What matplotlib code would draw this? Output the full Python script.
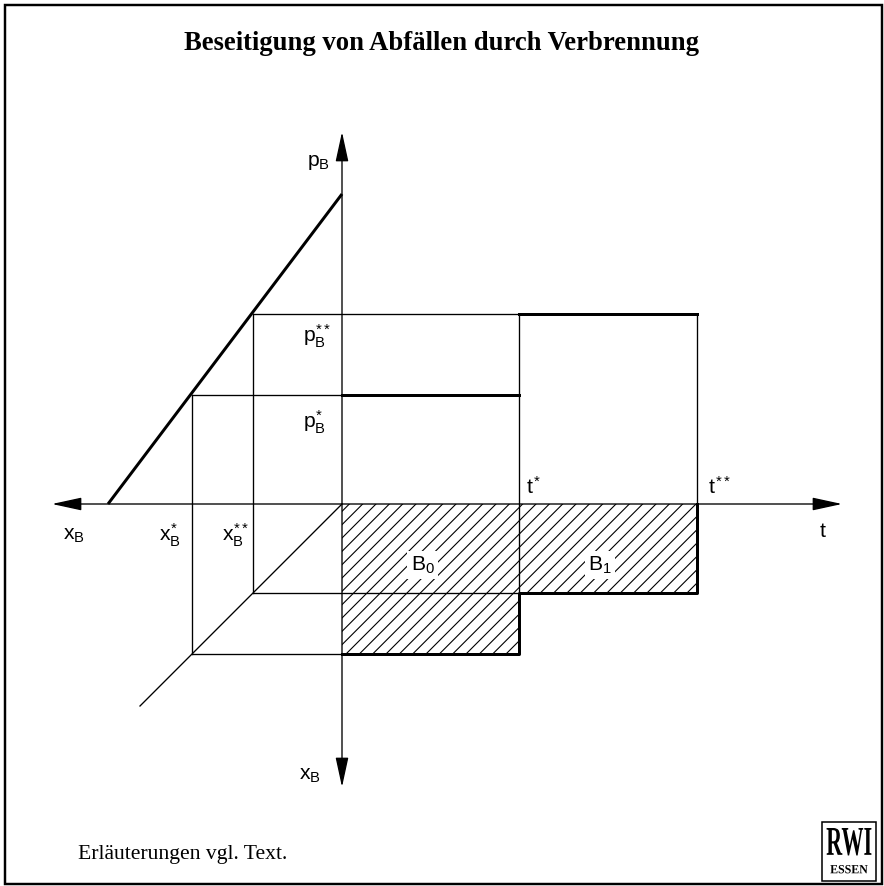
import matplotlib
matplotlib.use("Agg")
import matplotlib.pyplot as plt
from matplotlib.patches import FancyArrowPatch, Rectangle, PathPatch
from matplotlib.textpath import TextPath
from matplotlib.font_manager import FontProperties
from matplotlib.transforms import Affine2D

# schematic values (origin = crossing of the axes)
t_star, t_2star = 177, 355          # t*, t**
p_star, p_2star = 109, 190          # p_B*, p_B**
x_star, x_2star = 150, 89           # x_B*, x_B**
demand_p0, demand_x0 = 310, 234     # price / quantity intercept of demand line
axis_t, axis_x, axis_p, axis_xd = 500, 290, 372, 283   # axis lengths
diag_len = 202

area_left = [0, t_star]
area_width = [t_star, t_2star - t_star]
area_depth = [-x_star, -x_2star]
area_names = ["$B_0$", "$B_1$"]

plt.rcParams["mathtext.fontset"] = "custom"
plt.rcParams["mathtext.rm"] = "Liberation Sans"
plt.rcParams["mathtext.it"] = "Liberation Sans"
plt.rcParams["hatch.linewidth"] = 1.0

W, H, dpi = 884, 886, 80
fig = plt.figure(figsize=(W / dpi, H / dpi), dpi=dpi)
ax = fig.add_axes([0, 0, 1, 1])
ax.set_xlim(-342, W - 342)
ax.set_ylim(-(H - 504), 504)
ax.axis("off")

thin, thick = 1.2, 2.7

# axes with arrow heads
for a, b in [((-axis_x, 0), (axis_t, 0)), ((0, -axis_xd), (0, axis_p))]:
    ax.add_patch(FancyArrowPatch(a, b, arrowstyle="<|-|>,head_length=1.15,head_width=0.25",
                                 mutation_scale=20, lw=thin, color="black",
                                 shrinkA=0, shrinkB=0))

# hatched areas B0 and B1
ax.bar(area_left, area_depth, width=area_width, align="edge", fill=False,
       hatch="//", lw=0, edgecolor="black")

# demand line
ax.plot([-demand_x0, 0], [0, demand_p0], color="black", lw=thick, solid_capstyle="butt")

# 45 degree line
ax.plot([0, -diag_len], [0, -diag_len], color="black", lw=thin)

# thin helper lines
ax.plot([-x_2star, t_star], [p_2star, p_2star], color="black", lw=thin)
ax.plot([-x_star, 0], [p_star, p_star], color="black", lw=thin)
ax.plot([-x_2star, -x_2star], [p_2star, -x_2star], color="black", lw=thin)
ax.plot([-x_star, -x_star], [p_star, -x_star], color="black", lw=thin)
ax.plot([-x_2star, t_star], [-x_2star, -x_2star], color="black", lw=thin)
ax.plot([-x_star, 0], [-x_star, -x_star], color="black", lw=thin)
ax.plot([t_star, t_star], [p_2star, -x_2star], color="black", lw=thin)
ax.plot([t_2star, t_2star], [p_2star, 0], color="black", lw=thin)

# thick price path and outline of the areas
ax.plot([0, t_star], [p_star, p_star], color="black", lw=thick)
ax.plot([t_star, t_2star], [p_2star, p_2star], color="black", lw=thick)
ax.plot([0, t_star, t_star, t_2star, t_2star], [-x_star, -x_star, -x_2star, -x_2star, 0],
        color="black", lw=thick)

# labels
lab = dict(fontsize=19, color="black")
ax.text(-35, 342, "$p_B$", ha="left", va="center", **lab)
ax.text(-39, 168, "$p_B^{**}$", ha="left", va="center", **lab)
ax.text(-39, 82, "$p_B^{*}$", ha="left", va="center", **lab)
ax.text(-279, -31, "$x_B$", ha="left", va="center", **lab)
ax.text(-183, -31, "$x_B^{*}$", ha="left", va="center", **lab)
ax.text(-120, -31, "$x_B^{**}$", ha="left", va="center", **lab)
ax.text(-43, -271, "$x_B$", ha="left", va="center", **lab)
ax.text(184, 17, "$t^{*}$", ha="left", va="center", **lab)
ax.text(366, 17, "$t^{**}$", ha="left", va="center", **lab)
ax.text(481, -27, "$t$", ha="center", va="center", **lab)
for left, wd, name in zip(area_left, area_width, area_names):
    ax.text(left + wd / 2 - 8, -61, name, ha="center", va="center",
            bbox=dict(facecolor="white", edgecolor="none", pad=3), **lab)

# frame
fig.patches.append(Rectangle((5 / W, 2 / H), 877 / W, 879 / H, transform=fig.transFigure,
                             fill=False, lw=2.2, edgecolor="black"))

fig.text(442 / W, 1 - 43 / H, "Beseitigung von Abfällen durch Verbrennung",
         family="Liberation Serif", weight="bold", fontsize=24, ha="center", va="center")
fig.text(78 / W, 1 - 859 / H, "Erläuterungen vgl. Text.", family="Liberation Serif",
         fontsize=19.5, ha="left", va="baseline")

# RWI logo (condensed lettering drawn as paths, ax units are pixels)
fig.patches.append(Rectangle((822 / W, 1 - 881 / H), 54 / W, 59 / H, transform=fig.transFigure,
                             fill=False, lw=1.4, edgecolor="black"))
bold_serif = FontProperties(family="Liberation Serif", weight="bold")


def logo_word(word, size, xscale, cx, top):
    tp = TextPath((0, 0), word, size=size, prop=bold_serif)
    ext = tp.get_extents()
    tr = Affine2D().translate(-(ext.x0 + ext.x1) / 2, -ext.y1).scale(xscale, 1.0).translate(cx, top)
    ax.add_patch(PathPatch(tr.transform_path(tp), facecolor="black", edgecolor="none"))


logo_word("RWI", 41, 0.54, 849 - 342, 504 - 828)
logo_word("ESSEN", 12.5, 0.95, 849 - 342, 504 - 865)

fig.savefig("out.png", dpi=dpi)
